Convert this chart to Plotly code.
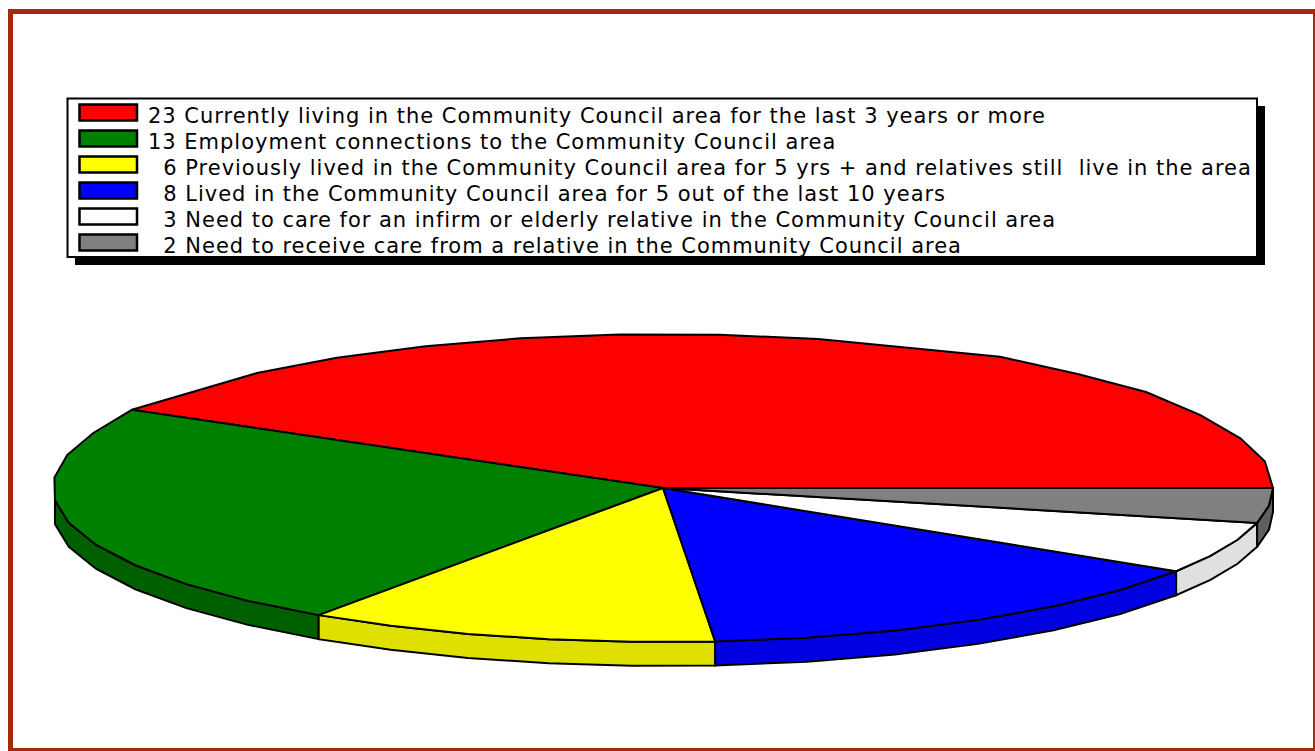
import math
import plotly.graph_objects as go

# Data
values = [23, 13, 6, 8, 3, 2]
labels = [
    "Currently living in the Community Council area for the last 3 years or more",
    "Employment connections to the Community Council area",
    "Previously lived in the Community Council area for 5 yrs + and relatives still  live in the area",
    "Lived in the Community Council area for 5 out of the last 10 years",
    "Need to care for an infirm or elderly relative in the Community Council area",
    "Need to receive care from a relative in the Community Council area",
]
top_colors = ["#ff0000", "#008000", "#ffff00", "#0000ff", "#ffffff", "#808080"]
rim_colors = ["#c00000", "#006000", "#e0e000", "#0000e0", "#e0e0e0", "#606060"]
segments = [16, 10, 5, 6, 3, 2]

# Layout constants (pixels on the page)
W, H = 1315, 751
CX, CY, RX, RY, DEPTH = 663, 488, 610, 154, 24
FRAME = "#a5290f"
FONT_SIZE = 21
LETTER_SPACING = "0.98px"
# The reference's red outline is not a perfect ellipse: small lifts (px) by vertex
red_lift = {1: 1.5, 4: 2, 5: 1, 6: 3, 16: 2.5}
red_skip = {7, 15}
green_first_lift = 2.5


def ell(deg):
    a = math.radians(deg)
    return CX + RX * math.cos(a), CY - RY * math.sin(a)


fig = go.Figure()
total = sum(values)
start = 0.0
tops = []
rims = []
for idx, (v, n, tc, rc, lab) in enumerate(zip(values, segments, top_colors, rim_colors, labels)):
    sweep = v / total * 360
    angles = [start + sweep * i / n for i in range(n + 1)]
    pts = [ell(a) for a in angles]
    if idx == 0:
        pts = [(p[0], p[1] - red_lift.get(i, 0)) for i, p in enumerate(pts) if i not in red_skip]
        angles = [a for i, a in enumerate(angles) if i not in red_skip]
    if idx == 1:
        pts[0] = (pts[0][0], pts[0][1] - green_first_lift)
    tops.append(([CX] + [p[0] for p in pts] + [CX], [CY] + [p[1] for p in pts] + [CY], tc, lab))
    front = [p for a, p in zip(angles, pts) if a > 180 - 1e-6]
    if len(front) > 1:
        xs = [p[0] for p in front] + [p[0] for p in reversed(front)] + [front[0][0]]
        ys = [p[1] for p in front] + [p[1] + DEPTH for p in reversed(front)] + [front[0][1]]
        rims.append((xs, ys, rc, lab))
    start += sweep

for xs, ys, col, lab in rims + tops:
    fig.add_trace(go.Scatter(
        x=xs, y=ys, mode="lines", fill="toself", fillcolor=col,
        line=dict(color="#000000", width=2), name=lab, hoverinfo="name", showlegend=False,
    ))

shapes = [
    dict(type="rect", x0=10.5, y0=11.5, x1=1315.5, y1=750.5, line=dict(color=FRAME, width=5), fillcolor="rgba(0,0,0,0)", layer="below"),
    dict(type="rect", x0=75, y0=106, x1=1265, y1=265, line=dict(width=0), fillcolor="#000000", layer="below"),
    dict(type="rect", x0=67.5, y0=98.5, x1=1257, y1=257, line=dict(color="#000000", width=2), fillcolor="#ffffff", layer="below"),
]
annotations = []
for i, (v, lab, col) in enumerate(zip(values, labels, top_colors)):
    y0 = 104.5 + 26 * i
    shapes.append(dict(type="rect", x0=79.5, y0=y0, x1=137, y1=y0 + 16, line=dict(color="#000000", width=2.5), fillcolor=col, layer="below"))
    annotations.append(dict(
        x=146, y=y0 + 11.5, xref="x", yref="y", xanchor="left", yanchor="middle", showarrow=False, align="left",
        text=f"{v:>2}".replace(" ", "\u00a0\u00a0") + " " + lab,
        font=dict(family="DejaVu Sans", size=FONT_SIZE, color="#000000"),
    ))

fig.update_layout(
    width=W, height=H, autosize=False, margin=dict(l=0, r=0, t=0, b=0, pad=0),
    paper_bgcolor="#ffffff", plot_bgcolor="#ffffff", showlegend=False,
    xaxis=dict(range=[0, W], visible=False, fixedrange=True),
    yaxis=dict(range=[H, 0], visible=False, fixedrange=True),
    shapes=shapes, annotations=annotations,
)
fig.write_html(
    "out.html", config={"displayModeBar": False},
    post_script=(
        "document.body.style.margin='0';document.body.style.overflow='hidden';"
        "document.querySelectorAll('.annotation-text').forEach(function(t){t.style.letterSpacing='"
        + LETTER_SPACING + "';});"
    ),
)
